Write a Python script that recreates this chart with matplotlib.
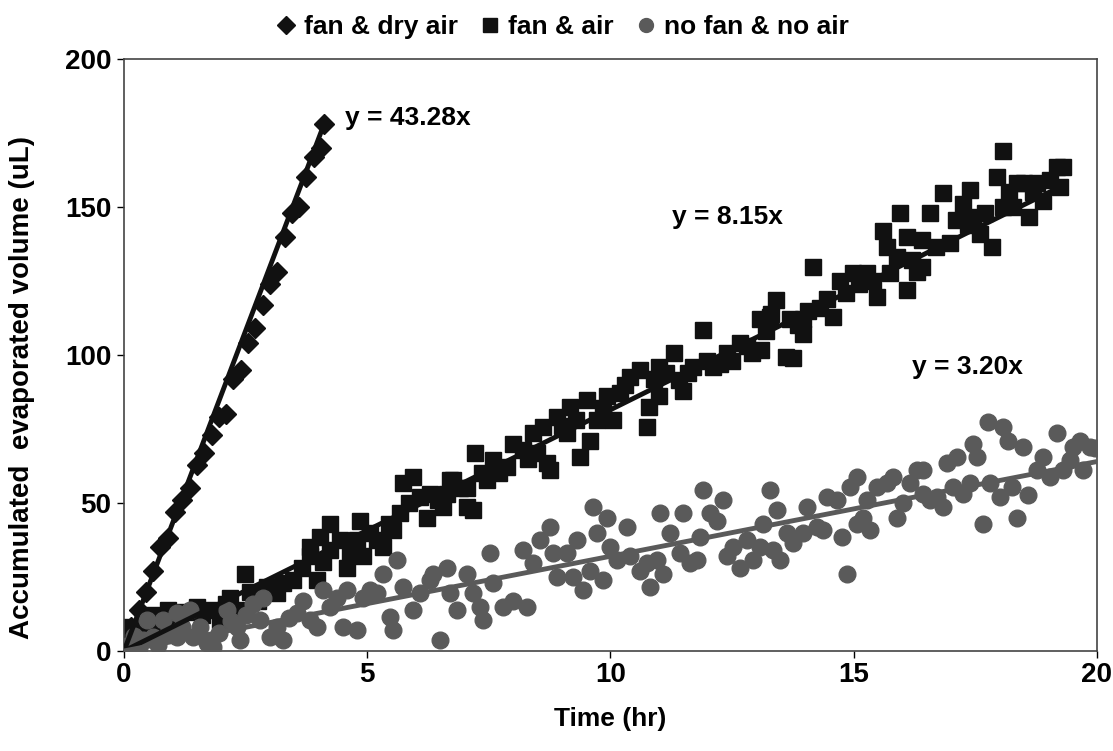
import matplotlib
matplotlib.use("Agg")
import matplotlib.pyplot as plt
from matplotlib.lines import Line2D

plt.rcParams['font.family'] = ['Liberation Sans', 'DejaVu Sans']
plt.rcParams['font.weight'] = 'bold'

# fan & dry air (diamonds)
dry_t = [0.0, 0.15, 0.3, 0.45, 0.6, 0.75, 0.9, 1.05, 1.2, 1.35, 1.5, 1.65, 1.8, 1.95,
         2.1, 2.25, 2.4, 2.55, 2.7, 2.85, 3.0, 3.15, 3.3, 3.45, 3.6, 3.75, 3.9, 4.05, 4.12]
dry_v = [0, 8, 14, 20, 27, 35, 38, 47, 51, 55, 63, 67, 73, 79,
         80, 92, 95, 104, 109, 117, 124, 128, 140, 148, 150, 160, 167, 170, 178]

# fan & air (squares)
air_t = [0.0, 0.05, 0.1, 0.15, 0.2, 0.3, 0.4, 0.5, 0.6, 0.7, 0.9, 1.0, 1.1, 1.25, 1.5, 1.6,
         1.77, 1.97, 2.1, 2.18, 2.3, 2.49, 2.59, 2.75, 2.94, 3.14, 3.27, 3.47, 3.66, 3.82,
         3.82, 3.96, 4.03, 4.1, 4.23, 4.23, 4.44, 4.58, 4.65, 4.79, 4.85, 4.91, 5.05, 5.2,
         5.32, 5.45, 5.53, 5.67, 5.74, 5.85, 5.94, 6.08, 6.23, 6.29, 6.45, 6.56, 6.64, 6.7,
         6.76, 6.9, 7.05, 7.05, 7.17, 7.21, 7.35, 7.46, 7.58, 7.7, 7.87, 8.0, 8.2, 8.3,
         8.41, 8.49, 8.61, 8.69, 8.76, 8.9, 9.0, 9.1, 9.17, 9.3, 9.37, 9.51, 9.58, 9.72,
         9.85, 9.93, 10.05, 10.2, 10.3, 10.4, 10.6, 10.75, 10.8, 10.9, 11.0, 11.0, 11.15,
         11.3, 11.4, 11.5, 11.6, 11.7, 11.9, 11.98, 12.1, 12.25, 12.4, 12.5, 12.66, 12.8,
         12.9, 13.07, 13.1, 13.2, 13.28, 13.3, 13.4, 13.6, 13.69, 13.75, 13.85, 13.96,
         13.96, 14.05, 14.16, 14.3, 14.45, 14.57, 14.72, 14.85, 14.98, 15.1, 15.27, 15.4,
         15.48, 15.6, 15.68, 15.75, 15.89, 15.95, 16.1, 16.1, 16.2, 16.3, 16.4, 16.4,
         16.57, 16.7, 16.83, 16.98, 17.1, 17.25, 17.35, 17.4, 17.45, 17.6, 17.7, 17.84,
         17.94, 18.07, 18.07, 18.2, 18.27, 18.35, 18.5, 18.6, 18.68, 18.76, 18.9, 19.03,
         19.18, 19.24, 19.3]
air_v = [0, 2, 5, 8, 3, 6, 10, 7, 12, 9, 14, 11, 8, 13, 15, 12,
         14, 10.5, 16, 18, 14, 26, 20, 17, 21.6, 19.6, 23, 24, 28, 32,
         35, 24, 38.5, 30, 43, 34, 37.5, 28, 33, 37.5, 44, 32, 40, 37.5,
         35, 43, 41, 46.6, 56.7, 50, 58.8, 52, 45, 53, 51, 48.6, 53, 57.8,
         57.8, 55, 55, 48.6, 47.6, 67, 60, 57.8, 64.5, 60, 62, 70, 68, 65,
         73.6, 67, 75.7, 63.5, 61, 79, 76, 73.6, 82.4, 78, 65.5, 84.8, 71, 78,
         82, 86, 78, 87, 90, 92.6, 95, 75.7, 82.4, 92, 86, 96, 94,
         100.7, 91.5, 88, 94, 96, 108.4, 98, 96, 97, 100.7, 98, 104, 103,
         100.7, 112, 101.7, 108, 113, 114, 118.6, 99.3, 112, 99, 110, 107,
         112, 115, 129.7, 116, 119, 113, 125, 121, 127.7, 124, 127.7, 125,
         119.6, 142, 136.5, 127.7, 133, 148, 122, 140, 132, 128, 129.7, 139,
         148, 136.5, 154.7, 138, 145.6, 151, 144, 155.7, 146.6, 141, 148, 136.5,
         160, 169, 150, 155, 150, 158, 158, 146.6, 155, 158, 152, 159,
         163.5, 156.8, 163.5]

# no fan & no air (circles)
still_t = [0.0, 0.1, 0.2, 0.3, 0.4, 0.47, 0.6, 0.7, 0.8, 0.9, 1.09, 1.09, 1.2, 1.36, 1.42,
           1.56, 1.7, 1.83, 1.95, 2.11, 2.2, 2.32, 2.38, 2.5, 2.65, 2.8, 2.86, 3.0, 3.14,
           3.27, 3.4, 3.56, 3.68, 3.82, 3.96, 4.09, 4.23, 4.38, 4.5, 4.58, 4.79, 4.91, 5.06,
           5.2, 5.32, 5.47, 5.53, 5.61, 5.74, 5.94, 6.08, 6.29, 6.35, 6.5, 6.64, 6.7, 6.84,
           7.05, 7.17, 7.32, 7.38, 7.52, 7.58, 7.79, 8.0, 8.2, 8.28, 8.41, 8.55, 8.76, 8.82,
           8.9, 9.1, 9.23, 9.31, 9.44, 9.58, 9.64, 9.72, 9.85, 9.93, 9.99, 10.13, 10.34,
           10.4, 10.6, 10.75, 10.81, 10.96, 11.02, 11.08, 11.22, 11.43, 11.49, 11.63, 11.78,
           11.84, 11.9, 12.05, 12.19, 12.31, 12.4, 12.52, 12.66, 12.81, 12.93, 13.07, 13.13,
           13.28, 13.34, 13.42, 13.48, 13.63, 13.75, 13.96, 14.04, 14.24, 14.37, 14.45,
           14.66, 14.76, 14.86, 14.92, 15.07, 15.07, 15.19, 15.27, 15.33, 15.48, 15.68,
           15.81, 15.89, 16.01, 16.16, 16.3, 16.42, 16.42, 16.57, 16.71, 16.83, 16.92,
           17.04, 17.12, 17.25, 17.39, 17.45, 17.53, 17.66, 17.76, 17.8, 18.0, 18.07, 18.17,
           18.25, 18.35, 18.48, 18.58, 18.76, 18.9, 19.03, 19.18, 19.3, 19.44, 19.5, 19.65,
           19.71, 19.86, 19.96]
still_v = [0, 2, 5, 1, 3.7, 10.5, 4.7, 2, 10.5, 6, 12.8, 4.7, 8, 13.8, 4.7,
           8, 2.7, 1.4, 6, 13.8, 10, 8, 3.7, 12, 16, 10.5, 18, 4.7, 8,
           3.7, 11, 12.8, 17, 10.5, 8, 20.6, 15, 18, 8, 20.6, 7, 18, 20.6,
           19.6, 26, 11.5, 7, 30.7, 21.6, 13.8, 19.6, 24, 26, 3.7, 28, 19.6, 13.8,
           26, 19.6, 15, 10.5, 33, 23, 15, 17, 34, 15, 29.7, 37.5, 42, 33,
           25, 33, 25, 37.5, 20.6, 27, 48.6, 40, 24, 45, 35, 30.7, 42,
           32, 27, 29.7, 21.6, 30.7, 46.6, 26, 40, 33, 46.6, 29.7, 30.7,
           38.5, 54.4, 46.6, 44, 51, 32, 35, 28, 37.5, 30.7, 35, 43,
           54.4, 34, 47.6, 30.7, 40, 36.5, 40, 48.6, 42, 41, 52,
           51, 38.5, 26, 55.4, 58.8, 43, 45, 51, 41, 55.4, 56.7,
           58.8, 45, 50, 56.7, 61, 61, 53, 51, 52, 48.6, 63.5,
           55.4, 65.5, 53, 56.7, 70, 65.5, 43, 77.4, 56.7, 52, 75.7, 71,
           55.4, 45, 69, 52.7, 61, 65.5, 58.8, 73.6, 61, 64.5, 69, 71,
           61, 69, 68.5]

# fitted slopes and the time span of each fit
slopes = [43.28, 8.15, 3.20]
fit_end = [4.12, 19.3, 20.0]
labels = ['fan & dry air', 'fan & air', 'no fan & no air']

dark = '#111111'
grey = '#5a5a5a'

fig = plt.figure(figsize=(11.13, 7.51), dpi=100)
ax = fig.add_axes([0.1114, 0.1332, 0.8742, 0.7882])

ax.plot(dry_t, dry_v, linestyle='none', marker='D', markersize=10, color=dark, zorder=2)
ax.plot(air_t, air_v, linestyle='none', marker='s', markersize=11, color=dark, zorder=2)
ax.plot(still_t, still_v, linestyle='none', marker='o', markersize=12, color=grey, zorder=3)

line_colors = [dark, dark, grey]
for k, c, t_end in zip(slopes, line_colors, fit_end):
    ax.plot([0, t_end], [0, k * t_end], color=c, linewidth=3.5, zorder=4,
            solid_capstyle='butt')

ax.text(4.55, 180, 'y = 43.28x', fontsize=19, fontweight='bold', va='center')
ax.text(11.26, 146.6, 'y = 8.15x', fontsize=19, fontweight='bold', va='center')
ax.text(16.2, 96, 'y = 3.20x', fontsize=19, fontweight='bold', va='center')

ax.set_xlim(0, 20)
ax.set_ylim(0, 200)
ax.set_xticks([0, 5, 10, 15, 20])
ax.set_yticks([0, 50, 100, 150, 200])
ax.tick_params(direction='out', length=5, width=1, labelsize=20)
ax.tick_params(axis='y', pad=4)
ax.tick_params(axis='x', pad=3)
for lbl in ax.get_xticklabels() + ax.get_yticklabels():
    lbl.set_fontweight('bold')
for sp in ax.spines.values():
    sp.set_color('#444444')
    sp.set_linewidth(1.2)

ax.set_xlabel('Time (hr)', fontsize=19, fontweight='bold')
ax.set_ylabel('Accumulated  evaporated volume (uL)', fontsize=20, fontweight='bold')
ax.xaxis.set_label_coords(0.5, -0.095)
ax.yaxis.set_label_coords(-0.0915, 0.445)

handles = [
    Line2D([], [], linestyle='none', marker='D', markersize=9, color=dark),
    Line2D([], [], linestyle='none', marker='s', markersize=10, color=dark),
    Line2D([], [], linestyle='none', marker='o', markersize=10, color=grey),
]
fig.legend(handles, labels, loc='upper center', bbox_to_anchor=(0.505, 1.012), ncol=3,
           frameon=False, handlelength=0.8, handletextpad=0.3,
           columnspacing=0.8, prop={'weight': 'bold', 'size': 19})

fig.savefig('out.png', dpi=100, facecolor='white')
